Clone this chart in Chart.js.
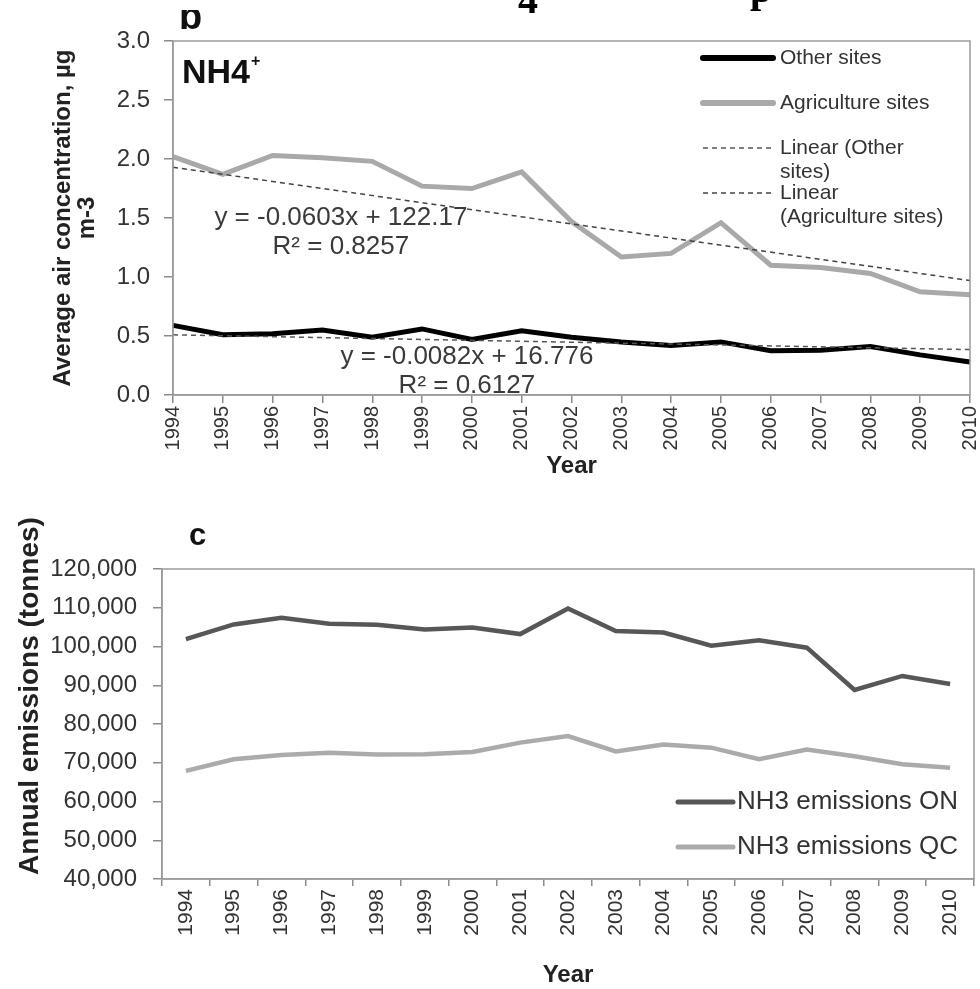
<!DOCTYPE html>
<html>
<head>
<meta charset="utf-8">
<script src="https://cdn.jsdelivr.net/npm/chart.js@4.4.1/dist/chart.umd.min.js"></script>
<style>
  html, body { margin: 0; padding: 0; background: #fff; }
  #wrap { position: relative; width: 980px; height: 989px; overflow: hidden; }
  .box { position: absolute; left: 0; }
</style>
</head>
<body>
<div id="wrap">
  <div class="box" style="top:0;width:980px;height:500px"><canvas id="c1" width="980" height="500"></canvas></div>
  <div class="box" style="top:500px;width:980px;height:489px"><canvas id="c2" width="980" height="489"></canvas></div>
</div>
<script>
// ---------------- DATA ----------------
const years = ['1994','1995','1996','1997','1998','1999','2000','2001','2002','2003','2004','2005','2006','2007','2008','2009','2010'];

// Panel b: NH4+ average air concentration (µg m-3)
const otherSites       = [0.59, 0.51, 0.52, 0.55, 0.49, 0.56, 0.47, 0.545, 0.49, 0.45, 0.42, 0.45, 0.375, 0.38, 0.41, 0.34, 0.28];
const agricultureSites = [2.02, 1.87, 2.03, 2.01, 1.98, 1.77, 1.75, 1.89, 1.47, 1.17, 1.20, 1.46, 1.10, 1.08, 1.03, 0.875, 0.85];
// Linear trend lines: values at first and last year
const otherTrendEnds       = [0.51, 0.385];
const agricultureTrendEnds = [1.93, 0.97];

const seriesLabelsTop = ['Other sites', 'Agriculture sites', 'Linear (Other sites)', 'Linear (Agriculture sites)'];
const legendLinesTop  = [['Other sites'], ['Agriculture sites'], ['Linear (Other', 'sites)'], ['Linear', '(Agriculture sites)']];
const equationAgri  = ['y = -0.0603x + 122.17', 'R\u00B2 = 0.8257'];
const equationOther = ['y = -0.0082x + 16.776', 'R\u00B2 = 0.6127'];
const concTitle = ['Average air concentration, \u00B5g', 'm-3'];

// Panel c: NH3 annual emissions (tonnes)
const emissionsON = [101900, 105700, 107400, 105900, 105600, 104400, 104900, 103200, 109800, 104000, 103600, 100200, 101600, 99700, 88800, 92400, 90300];
const emissionsQC = [67900, 70900, 72000, 72600, 72100, 72200, 72800, 75200, 76900, 72900, 74700, 73900, 70900, 73400, 71700, 69600, 68700];
const seriesLabelsBottom = ['NH3 emissions ON', 'NH3 emissions QC'];
const emissionsTitle = 'Annual emissions (tonnes)';

// ---------------- HELPERS ----------------
const FONT = "'Liberation Sans', Arial, Helvetica, sans-serif";
const SERIF = "'Liberation Serif', 'Times New Roman', serif";
Chart.defaults.font.family = FONT;
Chart.defaults.color = '#333';

function trendSeries(ends) {
  return years.map((_, i) => i === 0 ? ends[0] : (i === years.length - 1 ? ends[1] : null));
}
function fixWidth(w) {
  return function (s) { s.width = w; s.paddingTop = 0; s.paddingBottom = 0; };
}
function fixHeight(h) {
  return function (s) { s.height = h; s.paddingLeft = 0; s.paddingRight = 0; };
}
function drawFrame(chart) {
  const a = chart.chartArea, ctx = chart.ctx;
  ctx.save();
  ctx.strokeStyle = '#9a9a9a';
  ctx.lineWidth = 1.5;
  ctx.strokeRect(a.left, a.top, a.right - a.left, a.bottom - a.top);
  ctx.restore();
}
function drawLegend(chart, items, opts) {
  const a = chart.chartArea, ctx = chart.ctx;
  ctx.save();
  items.forEach((it, i) => {
    const ds = chart.data.datasets[it.ds];
    const y = a[opts.anchor] + opts.y0 + opts.step * i;
    ctx.beginPath();
    ctx.strokeStyle = ds.borderColor;
    ctx.lineWidth = ds.borderDash ? ds.borderWidth : opts.sampleWidth;
    ctx.setLineDash(ds.borderDash || []);
    ctx.lineCap = ds.borderDash ? 'butt' : 'round';
    ctx.moveTo(a.right - opts.x0, y);
    ctx.lineTo(a.right - opts.x1, y);
    ctx.stroke();
    ctx.setLineDash([]);
    ctx.fillStyle = '#333';
    ctx.font = opts.font;
    ctx.textAlign = 'left';
    ctx.textBaseline = 'middle';
    it.lines.forEach((ln, k) => ctx.fillText(ln, a.right - opts.xt, y + k * opts.lineStep));
  });
  ctx.restore();
}

// ---------------- CHART b ----------------
const panelB = {
  id: 'panelB',
  afterDraw(chart) {
    const ctx = chart.ctx, a = chart.chartArea;
    const xs = chart.scales.x, ys = chart.scales.y;
    drawFrame(chart);

    // NH4+ label
    ctx.save();
    ctx.fillStyle = '#111';
    ctx.textAlign = 'left';
    ctx.textBaseline = 'alphabetic';
    ctx.font = 'bold 34px ' + FONT;
    ctx.fillText('NH4', a.left + 9, a.top + 42);
    const w = ctx.measureText('NH4').width;
    ctx.font = 'bold 16px ' + FONT;
    ctx.fillText('+', a.left + 10 + w, a.top + 25);
    ctx.restore();

    // regression equations
    ctx.save();
    ctx.fillStyle = '#3a3a3a';
    ctx.font = '26px ' + FONT;
    ctx.textAlign = 'center';
    ctx.textBaseline = 'middle';
    [[equationAgri, 3.37, 1.50], [equationOther, 5.90, 0.322]].forEach(([lines, xi, yv]) => {
      const px = xs.getPixelForValue(xi), py = ys.getPixelForValue(yv);
      lines.forEach((ln, k) => ctx.fillText(ln, px, py + k * 29));
    });
    ctx.restore();

    // legend
    drawLegend(chart, [
      { ds: 0, lines: legendLinesTop[0] },
      { ds: 1, lines: legendLinesTop[1] },
      { ds: 2, lines: legendLinesTop[2] },
      { ds: 3, lines: legendLinesTop[3] }
    ], { anchor: 'top', y0: 17, step: 45, x0: 267, x1: 197, xt: 190, lineStep: 24, sampleWidth: 6, font: '21px ' + FONT });

    // panel letter "b" (top part cropped in the original figure)
    ctx.save();
    ctx.beginPath();
    ctx.rect(0, 10, 400, 30);
    ctx.clip();
    ctx.fillStyle = '#111';
    ctx.font = 'bold 38px ' + FONT;
    ctx.textBaseline = 'alphabetic';
    ctx.textAlign = 'left';
    ctx.fillText('b', 179, 29);
    ctx.restore();

    // cropped remnants of a heading above the figure
    ctx.save();
    ctx.beginPath();
    ctx.rect(0, 0, 980, 14);
    ctx.clip();
    ctx.fillStyle = '#000';
    ctx.font = 'bold 40px ' + SERIF;
    ctx.textBaseline = 'alphabetic';
    ctx.textAlign = 'left';
    ctx.fillText('4', 518, 13);
    ctx.fillText('p', 750, 2);
    ctx.restore();
  }
};

new Chart(document.getElementById('c1'), {
  type: 'line',
  data: {
    labels: years,
    datasets: [
      { label: seriesLabelsTop[0], data: otherSites, borderColor: '#000', borderWidth: 5, pointRadius: 0, tension: 0, order: 2 },
      { label: seriesLabelsTop[1], data: agricultureSites, borderColor: '#a9a9a9', borderWidth: 5, pointRadius: 0, tension: 0, order: 3 },
      { label: seriesLabelsTop[2], data: trendSeries(otherTrendEnds), borderColor: '#555', borderWidth: 1.5, borderDash: [5, 4], pointRadius: 0, spanGaps: true, order: 1 },
      { label: seriesLabelsTop[3], data: trendSeries(agricultureTrendEnds), borderColor: '#444', borderWidth: 1.5, borderDash: [5, 4], pointRadius: 0, spanGaps: true, order: 0 }
    ]
  },
  options: {
    responsive: false,
    animation: false,
    events: [],
    layout: { padding: { top: 41, right: 10, left: 0, bottom: 0 } },
    plugins: { legend: { display: false }, tooltip: { enabled: false } },
    scales: {
      x: {
        type: 'category',
        offset: false,
        afterFit: fixHeight(105),
        grid: { display: true, drawOnChartArea: false, drawTicks: true, tickLength: 8, color: '#8a8a8a', lineWidth: 1.5 },
        border: { display: true, color: '#9a9a9a', width: 1.5 },
        ticks: { autoSkip: false, maxRotation: 90, minRotation: 90, padding: 3, color: '#333', font: { size: 20 } },
        title: { display: true, text: 'Year', color: '#222', font: { size: 24, weight: 'bold', lineHeight: 1.15 }, padding: { top: 0, bottom: 20 } }
      },
      y: {
        min: 0, max: 3,
        afterFit: fixWidth(173),
        grid: { display: true, drawOnChartArea: false, drawTicks: true, tickLength: 9, color: '#8a8a8a', lineWidth: 1.5 },
        border: { display: true, color: '#9a9a9a', width: 1.5 },
        ticks: { stepSize: 0.5, padding: 14, color: '#333', font: { size: 24 }, callback: v => Number(v).toFixed(1) },
        title: { display: true, text: concTitle, color: '#222', font: { size: 24, weight: 'bold', lineHeight: 1.0 }, padding: { top: 51, bottom: 0 } }
      }
    }
  },
  plugins: [panelB]
});

// ---------------- CHART c ----------------
const panelC = {
  id: 'panelC',
  afterDraw(chart) {
    const ctx = chart.ctx, a = chart.chartArea;
    drawFrame(chart);
    drawLegend(chart, [
      { ds: 0, lines: [seriesLabelsBottom[0]] },
      { ds: 1, lines: [seriesLabelsBottom[1]] }
    ], { anchor: 'bottom', y0: -77, step: 45, x0: 296, x1: 241, xt: 237, lineStep: 28, sampleWidth: 5, font: '26px ' + FONT });

    // y-axis title (drawn here so it can sit slightly above the plot centre, as in the original)
    ctx.save();
    ctx.translate(30, (a.top + a.bottom) / 2 - 28);
    ctx.rotate(-Math.PI / 2);
    ctx.fillStyle = '#222';
    ctx.font = 'bold 28px ' + FONT;
    ctx.textAlign = 'center';
    ctx.textBaseline = 'middle';
    ctx.fillText(emissionsTitle, 0, 0);
    ctx.restore();

    ctx.save();
    ctx.fillStyle = '#111';
    ctx.font = 'bold 31px ' + FONT;
    ctx.textBaseline = 'alphabetic';
    ctx.textAlign = 'left';
    ctx.fillText('c', 189, 45);
    ctx.restore();
  }
};

new Chart(document.getElementById('c2'), {
  type: 'line',
  data: {
    labels: years,
    datasets: [
      { label: seriesLabelsBottom[0], data: emissionsON, borderColor: '#575757', borderWidth: 4.5, pointRadius: 0, tension: 0 },
      { label: seriesLabelsBottom[1], data: emissionsQC, borderColor: '#ababab', borderWidth: 4.5, pointRadius: 0, tension: 0 }
    ]
  },
  options: {
    responsive: false,
    animation: false,
    events: [],
    layout: { padding: { top: 69, right: 6, left: 0, bottom: 0 } },
    plugins: { legend: { display: false }, tooltip: { enabled: false } },
    scales: {
      x: {
        type: 'category',
        offset: true,
        afterFit: fixHeight(110),
        grid: { display: true, offset: true, drawOnChartArea: false, drawTicks: true, tickLength: 7, color: '#8a8a8a', lineWidth: 1.5 },
        border: { display: true, color: '#9a9a9a', width: 1.5 },
        ticks: { autoSkip: false, maxRotation: 90, minRotation: 90, padding: 3, color: '#333', font: { size: 21 } },
        title: { display: true, text: 'Year', color: '#222', font: { size: 24, weight: 'bold', lineHeight: 1.15 }, padding: { top: 0, bottom: 0 } }
      },
      y: {
        min: 40000, max: 120000,
        afterFit: fixWidth(162),
        grid: { display: true, drawOnChartArea: false, drawTicks: true, tickLength: 9, color: '#8a8a8a', lineWidth: 1.5 },
        border: { display: true, color: '#9a9a9a', width: 1.5 },
        ticks: { stepSize: 10000, padding: 16, color: '#333', font: { size: 24 }, callback: v => Number(v).toLocaleString('en-US') },
        title: { display: false }
      }
    }
  },
  plugins: [panelC]
});
</script>
</body>
</html>
